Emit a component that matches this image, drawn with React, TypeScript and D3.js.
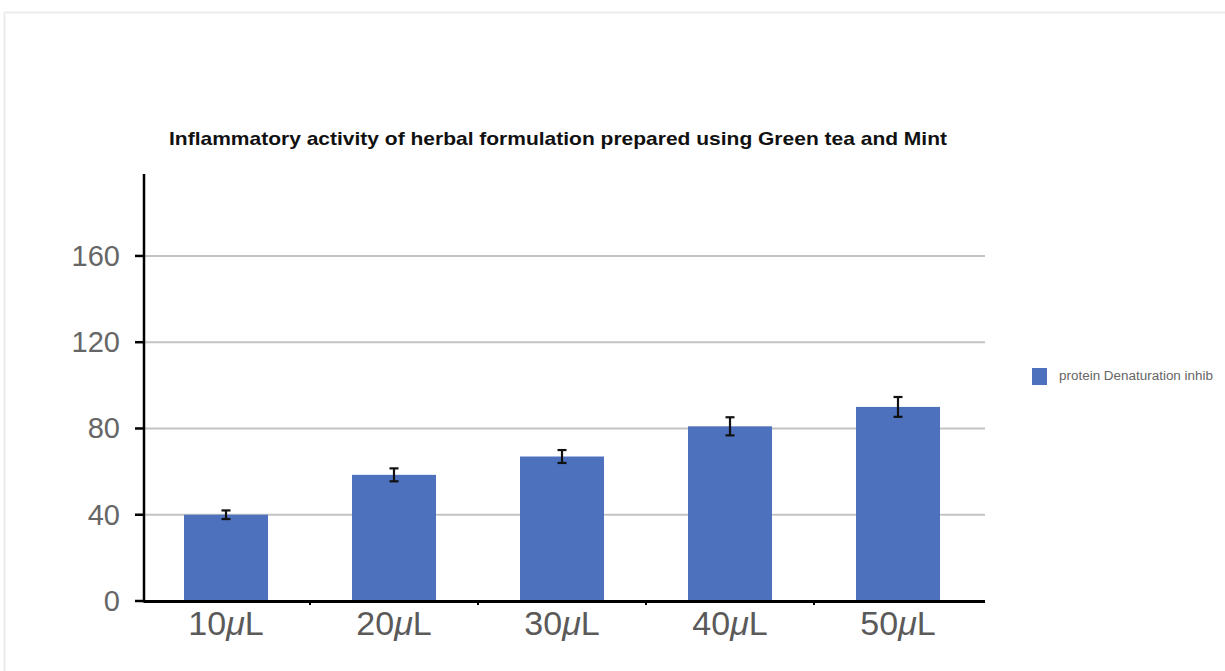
import { useEffect, useRef } from "react";
import * as d3 from "d3";

const categories = ["10", "20", "30", "40", "50"];
const values = [40, 58.5, 67, 81, 90];
const errors = [2, 3, 3, 4.2, 4.6];
const yTicks = [0, 40, 80, 120, 160];
const title = "Inflammatory activity of herbal formulation prepared using Green tea and Mint";
const seriesName = "protein Denaturation inhib";

export default function App() {
  const ref = useRef<SVGSVGElement>(null);

  useEffect(() => {
    if (!ref.current) return;
    const width = 1225,
      height = 671;
    const svg = d3.select(ref.current);
    svg.selectAll("*").remove();
    svg.attr("width", width).attr("height", height);

    svg.append("rect").attr("width", width).attr("height", height).attr("fill", "#fff");

    // faint frame of the screenshot
    svg
      .append("rect")
      .attr("x", 4.5)
      .attr("y", 12.5)
      .attr("width", width)
      .attr("height", height)
      .attr("fill", "none")
      .attr("stroke", "#ececec")
      .attr("stroke-width", 2);

    const x = d3.scaleBand().domain(categories).range([142, 982]).paddingInner(0.5).paddingOuter(0.25);
    const y = d3.scaleLinear().domain([0, 198]).range([601, 174]);
    const axisX = 144;
    const plotRight = 985;

    // gridlines
    svg
      .append("g")
      .selectAll("line")
      .data(yTicks.filter((t) => t > 0))
      .enter()
      .append("line")
      .attr("x1", axisX)
      .attr("x2", plotRight)
      .attr("y1", (d) => y(d))
      .attr("y2", (d) => y(d))
      .attr("stroke", "#c3c3c3")
      .attr("stroke-width", 2);

    // bars
    svg
      .append("g")
      .selectAll("rect")
      .data(values)
      .enter()
      .append("rect")
      .attr("x", (_, i) => x(categories[i])!)
      .attr("width", x.bandwidth())
      .attr("y", (d) => y(d))
      .attr("height", (d) => y(0) - y(d))
      .attr("fill", "#4e71be");

    // error bars
    const eb = svg.append("g").attr("stroke", "#111").attr("stroke-width", 2.2);
    values.forEach((v, i) => {
      const cx = x(categories[i])! + x.bandwidth() / 2;
      const e = errors[i];
      eb.append("line").attr("x1", cx).attr("x2", cx).attr("y1", y(v + e)).attr("y2", y(v - e));
      eb.append("line").attr("x1", cx - 4.5).attr("x2", cx + 4.5).attr("y1", y(v + e)).attr("y2", y(v + e));
      eb.append("line").attr("x1", cx - 4.5).attr("x2", cx + 4.5).attr("y1", y(v - e)).attr("y2", y(v - e));
    });

    // y axis
    svg
      .append("line")
      .attr("x1", axisX)
      .attr("x2", axisX)
      .attr("y1", y.range()[1])
      .attr("y2", y(0) + 1.5)
      .attr("stroke", "#000")
      .attr("stroke-width", 2.5);
    const yt = svg.append("g");
    yTicks.forEach((t) => {
      yt.append("line")
        .attr("x1", axisX - 9)
        .attr("x2", axisX)
        .attr("y1", y(t))
        .attr("y2", y(t))
        .attr("stroke", "#000")
        .attr("stroke-width", 2.5);
      yt.append("text")
        .attr("x", 120)
        .attr("y", y(t) + 10)
        .attr("text-anchor", "end")
        .style("font-family", "Liberation Sans, Arial, sans-serif")
        .style("font-size", "29px")
        .style("fill", "#666")
        .text(t);
    });

    // x axis
    svg
      .append("line")
      .attr("x1", axisX)
      .attr("x2", plotRight)
      .attr("y1", y(0) + 0.5)
      .attr("y2", y(0) + 0.5)
      .attr("stroke", "#000")
      .attr("stroke-width", 3);
    const step = x.step();
    categories.slice(1).forEach((c) => {
      const bx = x(c)! - (step - x.bandwidth()) / 2;
      svg
        .append("line")
        .attr("x1", bx)
        .attr("x2", bx)
        .attr("y1", y(0))
        .attr("y2", y(0) + 4)
        .attr("stroke", "#000")
        .attr("stroke-width", 2);
    });
    categories.forEach((c) => {
      const t = svg
        .append("text")
        .attr("x", x(c)! + x.bandwidth() / 2)
        .attr("y", 635)
        .attr("text-anchor", "middle")
        .style("font-family", "Liberation Sans, Arial, sans-serif")
        .style("font-size", "34px")
        .style("fill", "#5a5a5a");
      t.append("tspan").text(c);
      t.append("tspan").style("font-style", "italic").text("μ");
      t.append("tspan").text("L");
    });

    // title
    svg
      .append("text")
      .attr("x", 558)
      .attr("y", 145)
      .attr("text-anchor", "middle")
      .attr("textLength", 778)
      .attr("lengthAdjust", "spacingAndGlyphs")
      .style("font-family", "Liberation Sans, Arial, sans-serif")
      .style("font-size", "18.5px")
      .style("font-weight", "bold")
      .style("fill", "#111")
      .text(title);

    // legend
    svg
      .append("rect")
      .attr("x", 1032)
      .attr("y", 368)
      .attr("width", 15)
      .attr("height", 17)
      .attr("fill", "#4e71be");
    svg
      .append("text")
      .attr("x", 1059)
      .attr("y", 380)
      .attr("textLength", 154)
      .attr("lengthAdjust", "spacingAndGlyphs")
      .style("font-family", "Liberation Sans, Arial, sans-serif")
      .style("font-size", "12.5px")
      .style("fill", "#666")
      .text(seriesName);
  }, []);

  return <svg ref={ref} style={{ position: "absolute", left: 0, top: 0 }} />;
}
